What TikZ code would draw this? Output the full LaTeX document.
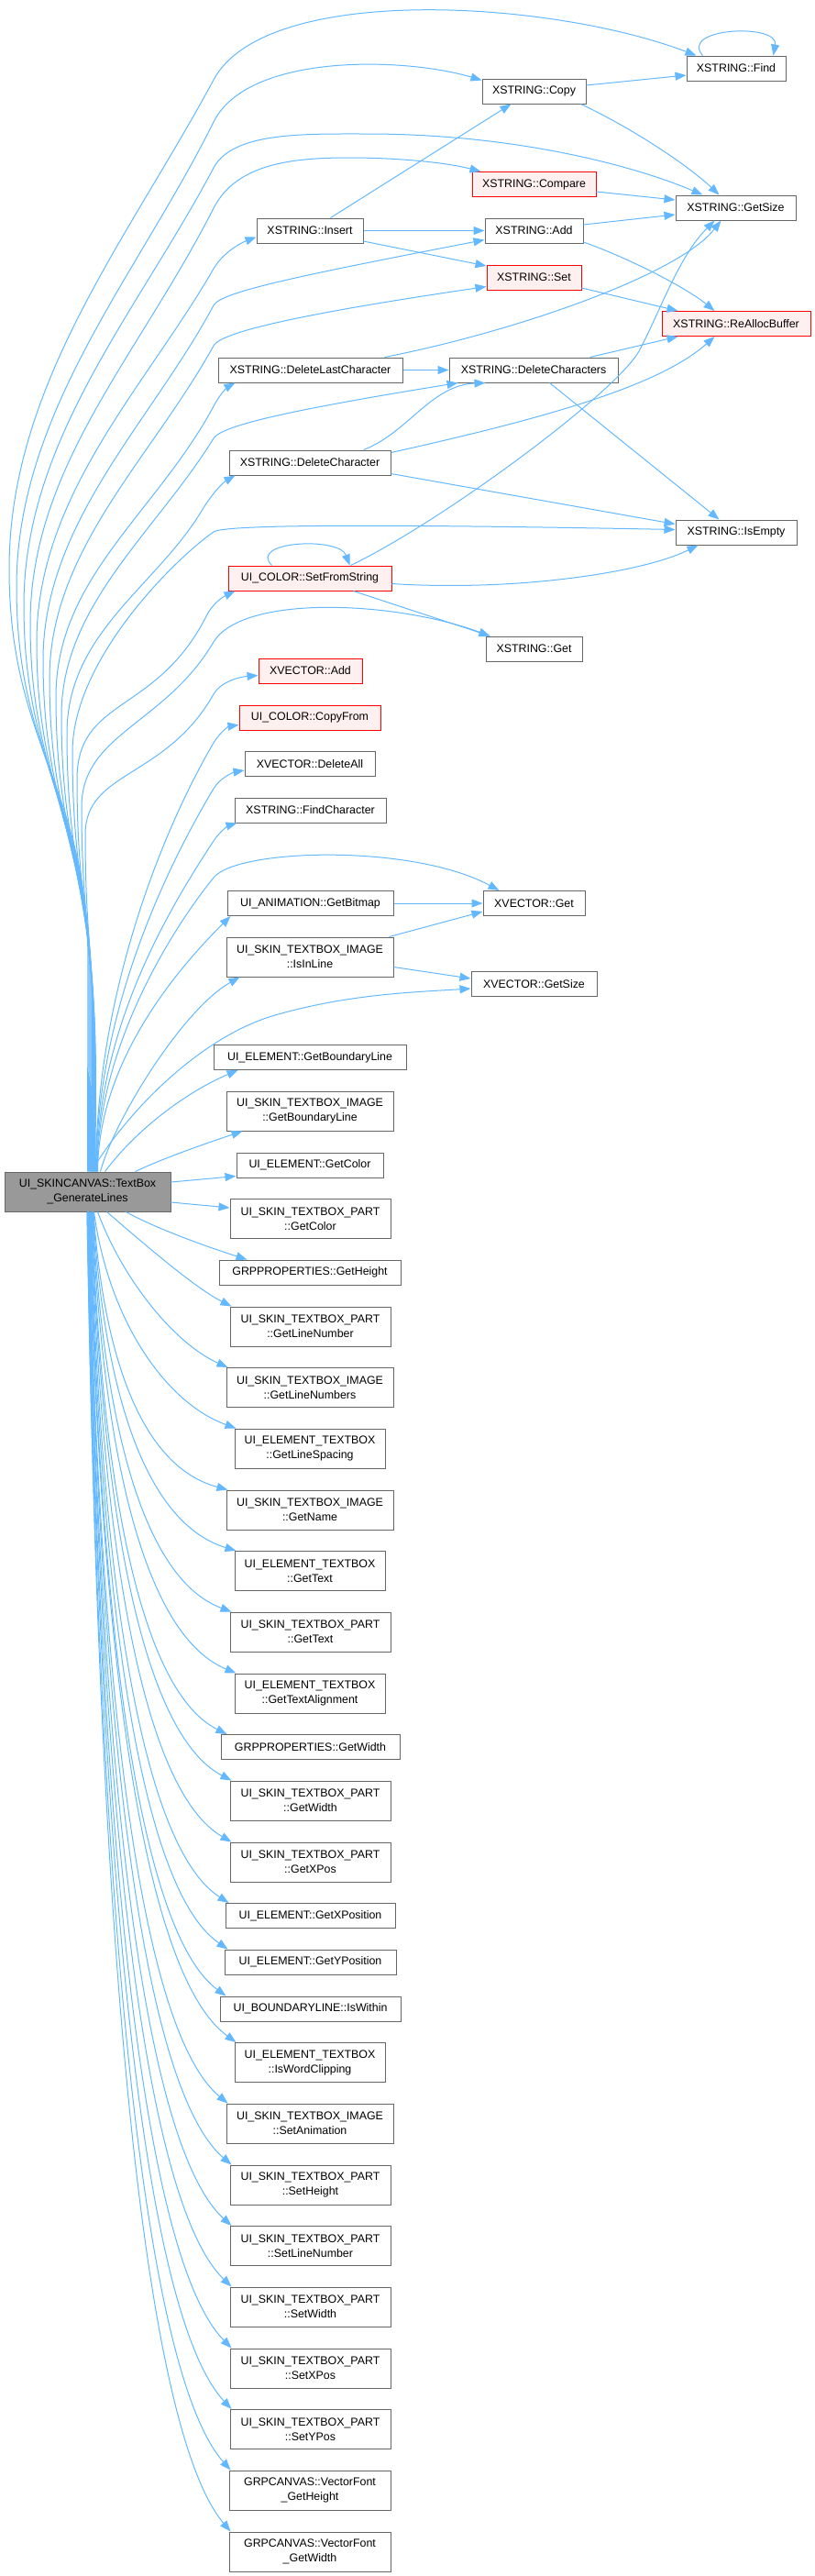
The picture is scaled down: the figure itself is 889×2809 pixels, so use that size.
\documentclass[tikz,border=0pt]{standalone}
\usepackage{fontspec}
\setmainfont{Liberation Sans}
\usetikzlibrary{arrows.meta,calc}
\definecolor{edgec}{HTML}{63B8FF}
\definecolor{bordc}{HTML}{666666}
\definecolor{redb}{HTML}{FF0000}
\definecolor{redf}{HTML}{FFF0F0}
\definecolor{mainf}{HTML}{999999}
\newcommand{\nfont}{\fontsize{12.4}{16}\selectfont}
\newcommand{\lowedge}[3]{%
  \draw[calledge] let \p1=([xshift=#1pt]M.south west), \p2=([xshift=#3pt]#2.north west) in
    (\p1) .. controls ({\x1+0.08*(\x2-\x1)},{\y1+0.55*(\y2-\y1)}) and ({\x2-0.62*(\x2-\x1)},{\y2-0.08*(\y2-\y1)}) .. (\p2);}
\begin{document}
\begin{tikzpicture}[x=1pt,y=-1pt,
 nd/.style={draw=bordc, fill=white, line width=1pt, inner sep=0pt, font=\nfont, align=center, minimum height=27pt},
 ndd/.style={nd, minimum height=43pt},
 ndr/.style={nd, draw=redb, fill=redf},
 ndm/.style={ndd, fill=mainf},
 calledge/.style={draw=edgec, line width=1pt, -{Triangle[length=12pt,width=9pt]}}]
\useasboundingbox (0,0) rectangle (889,2809);
% main
\node[ndm, minimum width=181pt] (M) at (95.5,1299.5) {UI\_SKINCANVAS::TextBox\\\_GenerateLines};
% column 1
\node[nd, minimum width=116pt] (Insert) at (338,251.5) {XSTRING::Insert};
\node[nd, minimum width=201pt] (DLC) at (338.5,403.5) {XSTRING::DeleteLastCharacter};
\node[nd, minimum width=176pt] (DelChar) at (338,504.5) {XSTRING::DeleteCharacter};
\node[ndr, minimum width=178pt] (SFS) at (338,630.5) {UI\_COLOR::SetFromString};
\node[ndr, minimum width=113pt] (XVAdd) at (338.5,731.5) {XVECTOR::Add};
\node[ndr, minimum width=154pt] (CopyFrom) at (338,782.5) {UI\_COLOR::CopyFrom};
\node[nd, minimum width=142pt] (DeleteAll) at (338,833) {XVECTOR::DeleteAll};
\node[nd, minimum width=165pt] (FindChar) at (338.5,883.5) {XSTRING::FindCharacter};
\node[nd, minimum width=181pt] (GetBitmap) at (338.5,985) {UI\_ANIMATION::GetBitmap};
\node[ndd, minimum width=182pt] (IsInLine) at (338,1043.5) {UI\_SKIN\_TEXTBOX\_IMAGE\\::IsInLine};
\node[nd, minimum width=210pt] (ElemGBL) at (338,1153) {UI\_ELEMENT::GetBoundaryLine};
\node[ndd, minimum width=182pt] (ImgGBL) at (338,1211.5) {UI\_SKIN\_TEXTBOX\_IMAGE\\::GetBoundaryLine};
\node[nd, minimum width=160pt] (ElemGetColor) at (338,1270.5) {UI\_ELEMENT::GetColor};
\node[ndd, minimum width=175pt] (PartGetColor) at (338.5,1329) {UI\_SKIN\_TEXTBOX\_PART\\::GetColor};
\node[nd, minimum width=198pt] (GetHeight) at (338,1387.5) {GRPPROPERTIES::GetHeight};
\node[ndd, minimum width=175pt] (PGLN) at (338.5,1446.5) {UI\_SKIN\_TEXTBOX\_PART\\::GetLineNumber};
\node[ndd, minimum width=182pt] (IGLN) at (338,1513) {UI\_SKIN\_TEXTBOX\_IMAGE\\::GetLineNumbers};
\node[ndd, minimum width=164pt] (GLS) at (338,1579.5) {UI\_ELEMENT\_TEXTBOX\\::GetLineSpacing};
\node[ndd, minimum width=182pt] (ImgGetName) at (338,1646.5) {UI\_SKIN\_TEXTBOX\_IMAGE\\::GetName};
\node[ndd, minimum width=164pt] (ETGetText) at (338,1713) {UI\_ELEMENT\_TEXTBOX\\::GetText};
\node[ndd, minimum width=175pt] (PartGetText) at (338.5,1779.5) {UI\_SKIN\_TEXTBOX\_PART\\::GetText};
\node[ndd, minimum width=164pt] (GetTextAlign) at (338,1846.5) {UI\_ELEMENT\_TEXTBOX\\::GetTextAlignment};
\node[nd, minimum width=195pt] (GetWidth) at (338.5,1905) {GRPPROPERTIES::GetWidth};
\node[ndd, minimum width=175pt] (PartGetWidth) at (338.5,1963.5) {UI\_SKIN\_TEXTBOX\_PART\\::GetWidth};
\node[ndd, minimum width=175pt] (PartGetXPos) at (338.5,2030.5) {UI\_SKIN\_TEXTBOX\_PART\\::GetXPos};
\node[nd, minimum width=185pt] (GetXPosition) at (338.5,2089) {UI\_ELEMENT::GetXPosition};
\node[nd, minimum width=187pt] (GetYPosition) at (338.5,2139.5) {UI\_ELEMENT::GetYPosition};
\node[nd, minimum width=197pt] (IsWithin) at (338.5,2190.5) {UI\_BOUNDARYLINE::IsWithin};
\node[ndd, minimum width=164pt] (IsWordClip) at (338,2249) {UI\_ELEMENT\_TEXTBOX\\::IsWordClipping};
\node[ndd, minimum width=182pt] (SetAnim) at (338,2315.5) {UI\_SKIN\_TEXTBOX\_IMAGE\\::SetAnimation};
\node[ndd, minimum width=175pt] (SetHeight) at (338.5,2382.5) {UI\_SKIN\_TEXTBOX\_PART\\::SetHeight};
\node[ndd, minimum width=175pt] (SetLineNum) at (338.5,2449) {UI\_SKIN\_TEXTBOX\_PART\\::SetLineNumber};
\node[ndd, minimum width=175pt] (SetWidth) at (338.5,2515.5) {UI\_SKIN\_TEXTBOX\_PART\\::SetWidth};
\node[ndd, minimum width=175pt] (SetXPos) at (338.5,2582.5) {UI\_SKIN\_TEXTBOX\_PART\\::SetXPos};
\node[ndd, minimum width=175pt] (SetYPos) at (338.5,2649) {UI\_SKIN\_TEXTBOX\_PART\\::SetYPos};
\node[ndd, minimum width=176pt] (VFGH) at (338,2715.5) {GRPCANVAS::VectorFont\\\_GetHeight};
\node[ndd, minimum width=176pt] (VFGW) at (338,2782.5) {GRPCANVAS::VectorFont\\\_GetWidth};
% column 2
\node[nd, minimum width=113pt] (Copy) at (582.5,99.5) {XSTRING::Copy};
\node[ndr, minimum width=135pt] (Compare) at (582.5,201) {XSTRING::Compare};
\node[nd, minimum width=107pt] (Add) at (582.5,251.5) {XSTRING::Add};
\node[ndr, minimum width=103pt] (Set) at (582.5,302.5) {XSTRING::Set};
\node[nd, minimum width=184pt] (DelChars) at (582,403.5) {XSTRING::DeleteCharacters};
\node[nd, minimum width=105pt] (XSGet) at (582.5,707.5) {XSTRING::Get};
\node[nd, minimum width=111pt] (XVGet) at (582.5,985) {XVECTOR::Get};
\node[nd, minimum width=137pt] (XVGetSize) at (582.5,1073) {XVECTOR::GetSize};
% column 3
\node[nd, minimum width=108pt] (Find) at (803,74.5) {XSTRING::Find};
\node[nd, minimum width=131pt] (XSGetSize) at (802.5,226.5) {XSTRING::GetSize};
\node[ndr, minimum width=162pt] (ReAlloc) at (803,353) {XSTRING::ReAllocBuffer};
\node[nd, minimum width=132pt] (IsEmpty) at (803,580.5) {XSTRING::IsEmpty};

% ---- edges from main, upward (bowing left) ----
\draw[calledge] ([xshift=91pt]M.north west) -- (96,1050) .. controls (96,856.5) and (10,813.5) .. (10,620) .. controls (10,420) and (140,260) .. (233,87) .. controls (290,-19) and (600,0) .. ([xshift=11pt]Find.north west);
\draw[calledge] ([xshift=92pt]M.north west) -- (97,1060) .. controls (97,871) and (18,829) .. (18,640) .. controls (18,450) and (150,300) .. (233,133) .. controls (270,58) and (440,62) .. ([yshift=-2pt]Copy.north west);
\draw[calledge] ([xshift=93pt]M.north west) -- (98,1070) .. controls (98,885.5) and (26,844.5) .. (26,660) .. controls (26,480) and (150,340) .. (233,183) .. controls (254,144) and (330,146) .. (400,146) .. controls (560,146) and (690,180) .. ([xshift=30pt]XSGetSize.north west);
\draw[calledge] ([xshift=94pt]M.north west) -- (99,1080) .. controls (99,900) and (33,860) .. (33,680) .. controls (33,510) and (150,390) .. (233,227) .. controls (258,178) and (320,172) .. (380,172) .. controls (440,172) and (490,178) .. ([xshift=10pt]Compare.north west);
\draw[calledge] ([xshift=95pt]M.north west) -- (100,1090) .. controls (100,914.5) and (40,875.5) .. (40,700) .. controls (40,540) and (160,420) .. (233,293) .. controls (244,274) and (265,264) .. ([yshift=-7pt]Insert.west);
\draw[calledge] ([xshift=95.5pt]M.north west) -- (100.5,1100) .. controls (100.5,929) and (47,891) .. (47,720) .. controls (47,570) and (165,460) .. (233,333) .. controls (241,318) and (330,300) .. ([yshift=-10pt]Add.west);
\draw[calledge] ([xshift=96pt]M.north west) -- (101,1110) .. controls (101,943.5) and (54,906.5) .. (54,740) .. controls (54,600) and (165,500) .. (233,377) .. controls (241,362) and (330,342) .. ([yshift=-10pt]Set.west);
\draw[calledge] ([xshift=96.5pt]M.north west) -- (101.5,1120) .. controls (101.5,958) and (61,922) .. (61,760) .. controls (61,630) and (170,560) .. (233,443) .. controls (242,426) and (250,421) .. ([xshift=19pt]DLC.south west);
\draw[calledge] ([xshift=97pt]M.north west) -- (102,1130) .. controls (102,972.5) and (67,937.5) .. (67,780) .. controls (67,660) and (170,580) .. (233,478) .. controls (242,463) and (330,445) .. ([xshift=10pt]DelChars.south west);
\draw[calledge] ([xshift=97.5pt]M.north west) -- (102.5,1140) .. controls (102.5,987) and (73,953) .. (73,800) .. controls (73,690) and (170,640) .. (220,557) .. controls (232.5,536) and (245,525) .. ([xshift=7pt]DelChar.south west);
\draw[calledge] ([xshift=98pt]M.north west) -- (103,1150) .. controls (103,1001.5) and (79,968.5) .. (79,820) .. controls (79,720) and (190,610) .. (233,580) .. controls (246,571) and (450,572) .. ([yshift=3pt]IsEmpty.west);
\draw[calledge] ([xshift=98.5pt]M.north west) -- (103.5,1160) .. controls (103.5,1020.5) and (84,989.5) .. (84,850) .. controls (84,760) and (170,780) .. (225,672) .. controls (233,656) and (245,650) .. ([xshift=8pt]SFS.south west);
\draw[calledge] ([xshift=99pt]M.north west) -- (104,1170) .. controls (104,1039.5) and (89,1010.5) .. (89,880) .. controls (89,800) and (180,790) .. (233,700) .. controls (265,648) and (430,655) .. ([xshift=5pt]XSGet.north west);
\draw[calledge] ([xshift=99.5pt]M.north west) -- (104.5,1180) .. controls (104.5,1058.5) and (93,1031.5) .. (93,910) .. controls (93,840) and (180,850) .. (233,757) .. controls (241,743) and (262,738) .. ([yshift=-5pt]XVAdd.west);
\draw[calledge] ([xshift=100pt]M.north west) .. controls (105,1080) and (180,900) .. (233,810) .. controls (241,797) and (250,792) .. ([yshift=-8pt]CopyFrom.west);
\draw[calledge] ([xshift=100.5pt]M.north west) .. controls (105,1100) and (185,940) .. (233,860) .. controls (240,848) and (255,842) .. ([yshift=-7pt]DeleteAll.west);
\draw[calledge] ([xshift=101pt]M.north west) .. controls (106,1120) and (185,990) .. (233,917) .. controls (240,906) and (250,900) .. ([xshift=3pt]FindChar.south west);
\draw[calledge] ([xshift=101.5pt]M.north west) .. controls (106,1140) and (190,1010) .. (233,957) .. controls (259,925) and (450,920) .. ([xshift=18pt]XVGet.north west);
\draw[calledge] ([xshift=102pt]M.north west) .. controls (107,1160) and (190,1060) .. ([xshift=4pt]GetBitmap.south west);
\draw[calledge] ([xshift=105pt]M.north west) .. controls (125,1220) and (200,1100) .. ([xshift=15pt]IsInLine.south west);
\draw[calledge] ([xshift=95pt]M.north west) .. controls (140,1210) and (220,1130) .. (300,1107) .. controls (380,1084) and (450,1082) .. ([yshift=-5pt]XVGetSize.west);
\draw[calledge] ([xshift=110pt]M.north west) .. controls (150,1230) and (205,1190) .. ([xshift=27pt]ElemGBL.south west);
\draw[calledge] ([xshift=143pt]M.north west) .. controls (180,1262) and (230,1245) .. ([xshift=18pt]ImgGBL.south west);
\draw[calledge] ([yshift=10.5pt]M.east) -- ([yshift=-12pt]ElemGetColor.west);
\draw[calledge] ([yshift=-11.5pt]M.east) -- ([yshift=12pt]PartGetColor.west);
% ---- edges from main, downward ----
\draw[calledge] ([xshift=133pt]M.south west) .. controls (165,1337) and (215,1356) .. ([xshift=31pt]GetHeight.north west);
\draw[calledge] ([xshift=112pt]M.south west) .. controls (158,1357) and (212,1404) .. ([xshift=2pt]PGLN.north west);
\draw[calledge] ([xshift=102pt]M.south west) .. controls (135,1398) and (192,1466) .. ([xshift=2pt]IGLN.north west);
\draw[calledge] ([xshift=98pt]M.south west) .. controls (118.5,1439.5) and (180.5,1529.6) .. ([xshift=2pt]GLS.north west);
\lowedge{97.5}{ImgGetName}{2}
\lowedge{97}{ETGetText}{2}
\lowedge{96.5}{PartGetText}{2}
\lowedge{96}{GetTextAlign}{2}
\lowedge{95.5}{GetWidth}{7}
\lowedge{95}{PartGetWidth}{2}
\lowedge{94.5}{PartGetXPos}{2}
\lowedge{94}{GetXPosition}{4}
\lowedge{93.5}{GetYPosition}{4}
\lowedge{93}{IsWithin}{7}
\lowedge{92.5}{IsWordClip}{2}
\lowedge{92}{SetAnim}{2}
\lowedge{92}{SetHeight}{2}
\lowedge{91.5}{SetLineNum}{2}
\lowedge{91.5}{SetWidth}{2}
\lowedge{91}{SetXPos}{2}
\lowedge{91}{SetYPos}{2}
\lowedge{90.5}{VFGH}{2}
\lowedge{90.5}{VFGW}{2}
% ---- other edges ----
\draw[calledge] ([yshift=6.5pt]Copy.east) -- ([yshift=-7.5pt]Find.west);
\draw[calledge] ([xshift=18pt]Find.north west) .. controls (740,30) and (850,25) .. ([xshift=-14pt]Find.north east);
\draw[calledge] ([xshift=-6pt]Copy.south east) .. controls (690,140) and (750,180) .. ([xshift=48pt]XSGetSize.north west);
\draw[calledge] ([yshift=-8pt]Compare.east) -- ([yshift=8.5pt]XSGetSize.west);
\draw[calledge] ([xshift=81pt]Insert.north west) -- ([xshift=32pt]Copy.south west);
\draw[calledge] (Insert.east) -- (Add.west);
\draw[calledge] ([yshift=-11.5pt]Insert.east) -- ([yshift=12.5pt]Set.west);
\draw[calledge] ([yshift=6.5pt]Add.east) -- ([yshift=-7.5pt]XSGetSize.west);
\draw[calledge] ([yshift=-12.5pt]Add.east) .. controls (690,283) and (750,315) .. ([xshift=58pt]ReAlloc.north west);
\draw[calledge] ([yshift=-11.5pt]Set.east) -- ([xshift=18pt]ReAlloc.north west);
\draw[calledge] ([xshift=182pt]DLC.north west) .. controls (560,362) and (740,300) .. ([xshift=50pt]XSGetSize.south west);
\draw[calledge] (DLC.east) -- (DelChars.west);
\draw[calledge] ([xshift=-31pt]DelChars.north east) -- ([xshift=18pt]ReAlloc.south west);
\draw[calledge] ([xshift=110pt]DelChars.south west) -- ([xshift=48pt]IsEmpty.north west);
\draw[calledge] ([xshift=147pt]DelChar.north west) .. controls (445,472) and (470,420) .. ([xshift=40pt]DelChars.south west);
\draw[calledge] ([yshift=11pt]DelChar.east) .. controls (600,455) and (720,420) .. ([xshift=58pt]ReAlloc.south west);
\draw[calledge] ([yshift=-12pt]DelChar.east) -- ([yshift=9pt]IsEmpty.west);
\draw[calledge] ([xshift=48pt]SFS.north west) .. controls (270,590) and (370,585) .. ([xshift=-46pt]SFS.north east);
\draw[calledge] ([xshift=-45pt]SFS.north east) .. controls (480,570) and (670,430) .. (697,383) .. controls (720,340) and (740,280) .. ([xshift=43pt]XSGetSize.south west);
\draw[calledge] ([yshift=-6pt]SFS.east) .. controls (560,645) and (700,625) .. ([xshift=25pt]IsEmpty.south west);
\draw[calledge] ([xshift=-42pt]SFS.south east) -- ([xshift=5pt]XSGet.north west);
\draw[calledge] (GetBitmap.east) -- (XVGet.west);
\draw[calledge] ([xshift=-5pt]IsInLine.north east) -- ([yshift=-9pt]XVGet.west);
\draw[calledge] ([yshift=-11pt]IsInLine.east) -- ([yshift=6pt]XVGetSize.west);
\end{tikzpicture}
\end{document}
